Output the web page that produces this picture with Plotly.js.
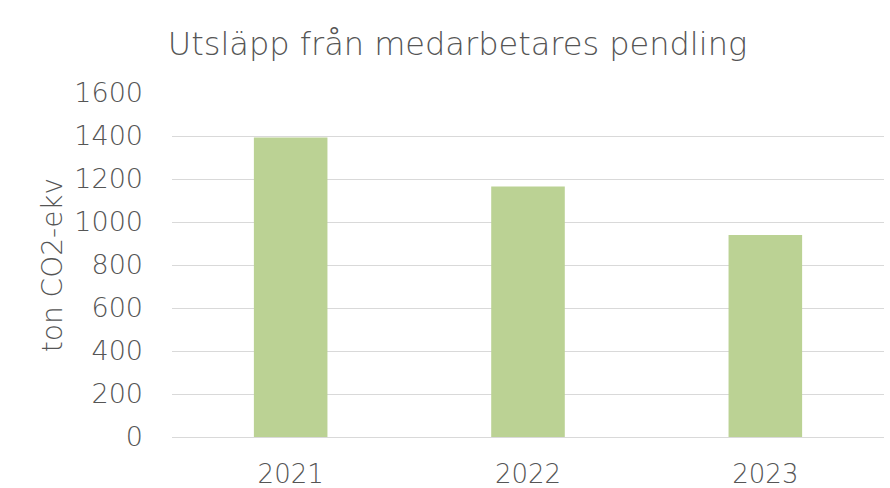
<!DOCTYPE html>
<html>
<head>
<meta charset="utf-8">
<script src="https://cdn.plot.ly/plotly-3.0.1.min.js"></script>
<style>html,body{margin:0;padding:0;background:#fff;}#chart{width:890px;height:488px;}</style>
</head>
<body>
<div id="chart"></div>
<script>
const years = ["2021", "2022", "2023"];
const emissions = [1393, 1165, 940];
const yTicks = [0, 200, 400, 600, 800, 1000, 1200, 1400, 1600];

const textColor = "#555555";
const fontFamily = "'DejaVu Sans', sans-serif";

const data = [{
  type: "bar",
  x: years,
  y: emissions,
  marker: {color: "#bbd294"},
  hoverinfo: "x+y"
}];

const layout = {
  width: 890,
  height: 488,
  margin: {l: 172, r: 6, t: 93, b: 51},
  paper_bgcolor: "#ffffff",
  plot_bgcolor: "#ffffff",
  bargap: 0.69,
  showlegend: false,
  font: {family: fontFamily, color: textColor, weight: 200},
  title: {
    text: "Utsläpp från medarbetares pendling",
    font: {family: fontFamily, size: 32, color: textColor, weight: 200},
    xref: "container", x: 0.514, xanchor: "center",
    yref: "container", y: 0.91, yanchor: "middle"
  },
  xaxis: {
    type: "category",
    tickfont: {family: fontFamily, size: 26, color: textColor, weight: 200},
    showgrid: false,
    showline: false,
    ticks: "",
    ticklabelstandoff: 19
  },
  yaxis: {
    range: [0, 1600],
    tickvals: yTicks,
    ticktext: yTicks.map(String),
    tickfont: {family: fontFamily, size: 27, color: textColor, weight: 200},
    showgrid: true,
    gridcolor: "#d9d9d9",
    gridwidth: 1,
    zeroline: true,
    zerolinecolor: "#d9d9d9",
    zerolinewidth: 1,
    showline: false,
    ticks: "",
    ticklabelstandoff: 28,
    title: {
      text: "ton CO2-ekv",
      font: {family: fontFamily, size: 28, color: textColor, weight: 200},
      standoff: 3
    }
  }
};

Plotly.newPlot("chart", data, layout, {displayModeBar: false, staticPlot: true});
</script>
</body>
</html>
